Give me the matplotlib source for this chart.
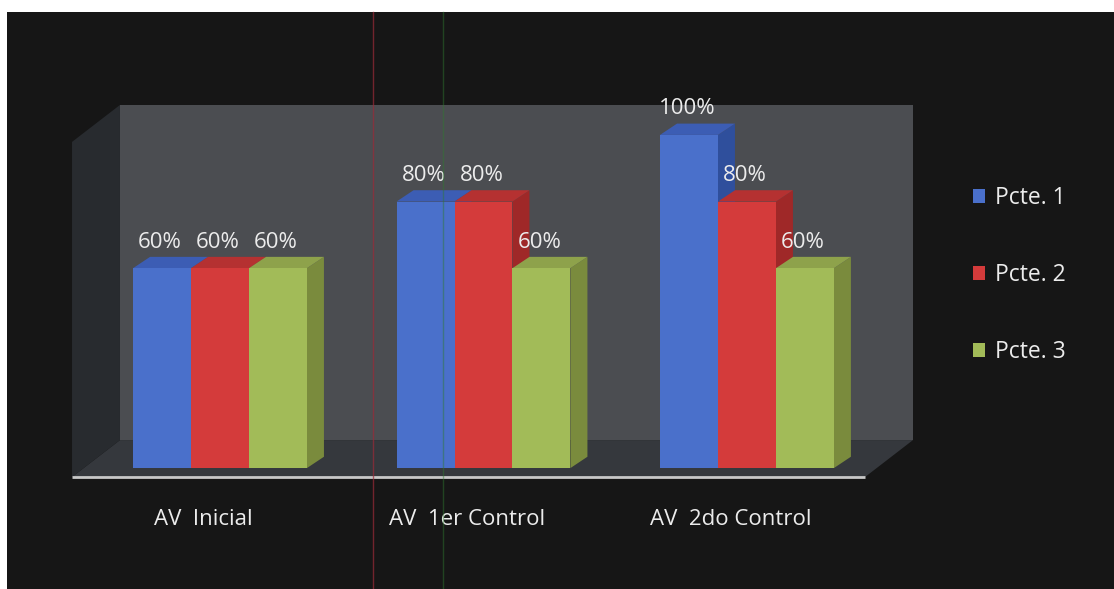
import matplotlib
matplotlib.use("Agg")
import matplotlib.pyplot as plt
from matplotlib.patches import Polygon, Rectangle, Patch
from matplotlib.lines import Line2D

categories = ["AV  Inicial", "AV  1er Control", "AV  2do Control"]
series_names = ["Pcte. 1", "Pcte. 2", "Pcte. 3"]
pcte1 = [60, 80, 100]
pcte2 = [60, 80, 80]
pcte3 = [60, 60, 60]
series_values = [pcte1, pcte2, pcte3]

front_colors = ["#4a70cb", "#d43b3b", "#a2bb58"]
top_colors = ["#3c5db4", "#b53131", "#8ea24b"]
side_colors = ["#2f4f9c", "#9f2828", "#7a8b3d"]

FONT = "Open Sans"
TXT = "#ececec"

fig = plt.figure(figsize=(11.14, 5.89), dpi=100)
fig.patch.set_facecolor("white")
ax = fig.add_axes([0, 0, 1, 1])
ax.set_xlim(-0.835, 3.393)
ax.set_ylim(-36.3, 140.5)
ax.axis("off")

# black panel
fig.patches.append(Rectangle((7 / 1114, 0), 1 - 7 / 1114, 1 - 12 / 589,
                             transform=fig.transFigure, facecolor="#161616",
                             edgecolor="none", zorder=-5))

# 3D box (walls + floor)
bx0, bx1 = -0.5617, 2.448      # front floor edge
ddx, ddy = 0.182, 11.1          # box depth offset
fy, wy = -2.7, 109.0           # floor front level, wall top
ax.add_patch(Polygon([(bx0, fy), (bx1, fy), (bx1 + ddx, fy + ddy), (bx0 + ddx, fy + ddy)],
                     closed=True, facecolor="#35383d", edgecolor="none", zorder=1))
ax.add_patch(Polygon([(bx0 + ddx, fy + ddy), (bx1 + ddx, fy + ddy), (bx1 + ddx, wy), (bx0 + ddx, wy)],
                     closed=True, facecolor="#4b4d51", edgecolor="none", zorder=1))
ax.add_patch(Polygon([(bx0, fy), (bx0 + ddx, fy + ddy), (bx0 + ddx, wy), (bx0, wy - ddy)],
                     closed=True, facecolor="#282b2f", edgecolor="none", zorder=1))
ax.plot([bx0, bx1], [fy, fy], color="#c8c8c8", lw=2, zorder=2, solid_capstyle="butt")

# bars
n = len(series_values)
width = 0.22
DX, DY = 0.0645, 3.4
z = 3
for ci in range(len(categories)):
    for si in range(n):
        v = series_values[si][ci]
        x0 = ci + (si - n / 2) * width
        x1 = x0 + width
        ax.add_patch(Polygon([(x1, 0), (x1 + DX, DY), (x1 + DX, v + DY), (x1, v)],
                             closed=True, facecolor=side_colors[si], edgecolor="none", zorder=z))
        ax.add_patch(Polygon([(x0, v), (x1, v), (x1 + DX, v + DY), (x0 + DX, v + DY)],
                             closed=True, facecolor=top_colors[si], edgecolor="none", zorder=z))
        ax.bar(x0, v, width=width, align="edge", color=front_colors[si], edgecolor="none", zorder=z + 1)
        ax.text(x0 + width / 2 - 0.008, v + 7.8, f"{v}%", ha="center", va="center",
                color=TXT, fontsize=16, family=FONT, zorder=20)
        z += 2

# category labels
for ci, cat in enumerate(categories):
    ax.text(ci - 0.062, -15.3, cat, ha="center", va="center", color=TXT,
            fontsize=16, family=FONT, zorder=20)

# legend
handles = [Patch(facecolor=front_colors[i], edgecolor="none") for i in range(n)]
leg = fig.legend(handles, series_names, loc="center left", bbox_to_anchor=(0.873, 0.533),
                 frameon=False, handlelength=0.55, handleheight=0.55, handletextpad=0.45,
                 labelspacing=2.3, borderpad=0, borderaxespad=0,
                 prop={"family": FONT, "size": 16.5})
for t in leg.get_texts():
    t.set_color(TXT)

# faint vertical scan lines
fig.add_artist(Line2D([373 / 1114] * 2, [0, 1 - 12 / 589], transform=fig.transFigure,
                      color="#9a2a38", lw=1, alpha=0.7, zorder=30))
fig.add_artist(Line2D([443 / 1114] * 2, [0, 1 - 12 / 589], transform=fig.transFigure,
                      color="#2f7a2f", lw=1, alpha=0.45, zorder=30))

fig.savefig("out.png", dpi=100, facecolor=fig.get_facecolor())
